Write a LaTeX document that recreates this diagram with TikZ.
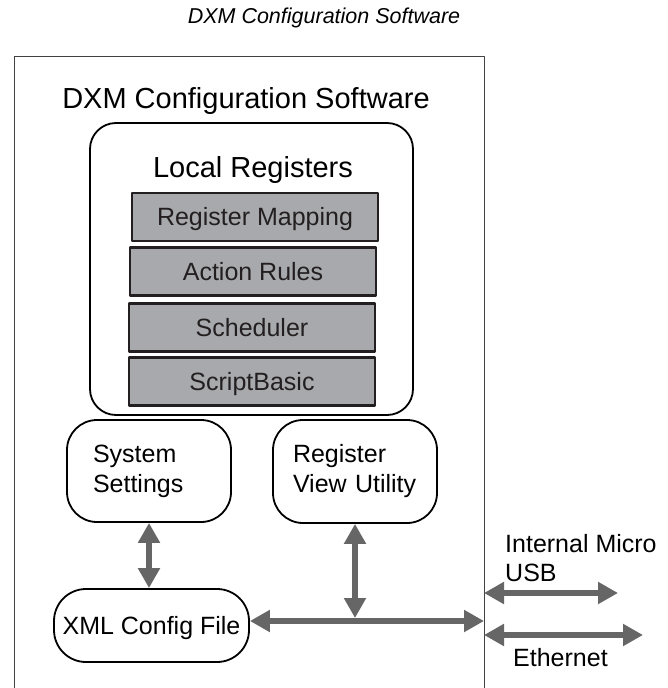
\documentclass[tikz,border=0pt]{standalone}
\usepackage{fontspec}
\setmainfont{Liberation Sans}
\usetikzlibrary{arrows.meta}
\definecolor{arrowgray}{HTML}{666666}
\definecolor{regfill}{HTML}{A7A9AC}
\definecolor{regline}{HTML}{231F20}
\tikzset{
  roundbox/.style={draw=black,line width=1.8pt,rounded corners=26pt,inner sep=0pt},
  regbox/.style={draw=regline,fill=regfill,line width=2.2pt,minimum width=246pt,minimum height=48pt,inner sep=0pt,text=regline,font=\fontsize{25}{30}\selectfont,text height=17.9pt,text depth=0pt},
  bigtext/.style={font=\fontsize{29}{34}\selectfont,text height=20.8pt,text depth=0pt},
  bus/.style={arrowgray,line width=6pt,<->},
}

\begin{document}
\begin{tikzpicture}[>={Triangle[length=20pt,width=21pt]},x=1pt,y=-1pt,line join=bevel]
\useasboundingbox (0,0) rectangle (668,688);
%%
\node (node_caption) at (324,18) [font=\fontsize{21.5}{24}\selectfont\itshape] {DXM Configuration Software};
\draw [regline!85,line width=1pt] (484,688) -- (484,56) -- (14,56) -- (14,688);
\node (node_dxm) at (246,98) [bigtext] {DXM Configuration Software};
%
\node (node_local) at (251.5,269) [roundbox,minimum width=323pt,minimum height=292pt] {};
\node (node_localtitle) at (253,167) [bigtext] {Local Registers};
\node (node_regmap) at (255,217) [regbox] {Register Mapping};
\node (node_action) at (253,271.5) [regbox] {Action Rules};
\node (node_sched) at (252,327.5) [regbox] {Scheduler};
\node (node_script) at (252,381.5) [regbox] {ScriptBasic};
%
\node (node_sys) at (149,471) [roundbox,rounded corners=30pt,minimum width=164pt,minimum height=102pt,text width=112pt,align=left,font=\fontsize{25}{30}\selectfont] {System\\Settings};
\node (node_rvu) at (355,471.5) [roundbox,rounded corners=30pt,minimum width=164pt,minimum height=103pt,text width=124pt,align=left,font=\fontsize{25}{30}\selectfont] {Register\\View Utility};
\node (node_xml) at (151.5,625.5) [roundbox,rounded corners=32pt,minimum width=195pt,minimum height=73pt,font=\fontsize{25}{30}\selectfont,text height=17.9pt,text depth=0pt] {XML Config File};
%
\coordinate (bus_end) at (484,621);
\coordinate (usb_a) at (484,593);
\coordinate (usb_b) at (618,593);
\coordinate (eth_a) at (484,635);
\coordinate (eth_b) at (643,635);
\draw [bus] (node_sys.south) -- (node_sys.south |- node_xml.north);
\draw [bus] (node_xml.east |- bus_end) -- (bus_end);
\draw [bus,shorten >=3pt] (node_rvu.south) -- (node_rvu.south |- bus_end);
\draw [bus] (usb_a) -- (usb_b);
\draw [bus] (eth_a) -- (eth_b);
%
\node (node_usb) at (505,558.5) [anchor=west,align=left,inner sep=0pt,font=\fontsize{25}{29}\selectfont] {Internal Micro\\USB};
\node (node_eth) at (513,658) [anchor=west,inner sep=0pt,font=\fontsize{25}{29}\selectfont,text height=17.9pt,text depth=0pt] {Ethernet};
%
\end{tikzpicture}
\end{document}
